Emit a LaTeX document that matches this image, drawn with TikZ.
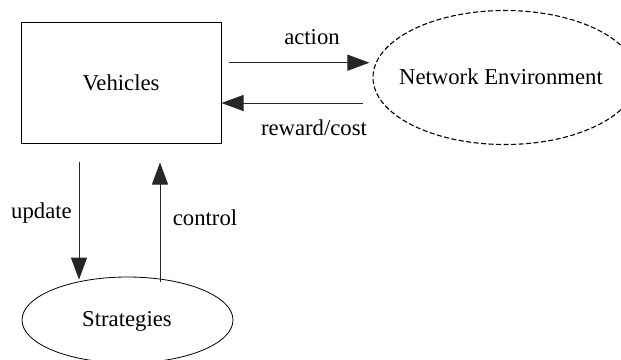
\documentclass[tikz,border=0pt]{standalone}
\usepackage{fontspec}
\setmainfont{Liberation Serif}
\usetikzlibrary{shapes.geometric,arrows.meta}
\tikzset{
  arr/.style={-{Triangle[length=22pt,width=16pt]}, line width=0.9pt, draw=black!85},
  lbl/.style={inner sep=0pt, font=\fontsize{22.7}{27}\selectfont},
  boxnode/.style={draw, line width=1pt, minimum width=200pt, minimum height=121pt, inner sep=0pt, font=\fontsize{22.7}{27}\selectfont},
  ellnode/.style={ellipse, draw, line width=0.8pt, inner sep=0pt, font=\fontsize{22.7}{27}\selectfont}
}
\begin{document}
\begin{tikzpicture}[x=1pt,y=-1pt]
\useasboundingbox (0,0) rectangle (621,359);
\clip (0,0) rectangle (621,359);
\node[ellnode, line width=1.1pt, dash pattern=on 5pt off 2.5pt, minimum width=264pt, minimum height=134pt] (net) at (505,77.5) {};
\node[boxnode] (veh) at (121,82.5) {Vehicles};
\node[lbl] (nettext) at (501,77) {Network Environment};
\node[ellnode, minimum width=211pt, minimum height=86pt] (str) at (127.5,320) {};
\node[lbl] (strtext) at (127,321) {Strategies};
\draw[arr] ([xshift=7.5pt,yshift=19.8pt]veh.east) -- ([xshift=-3pt,yshift=14.8pt]net.west);
\draw[arr] ([xshift=-9.5pt,yshift=-25.5pt]net.west) -- ([yshift=-20.5pt]veh.east);
\draw[arr] ([xshift=-42pt,yshift=-18pt]veh.south) -- ([xshift=-48.5pt,yshift=-3pt]str.north);
\draw[arr] ([xshift=32.5pt,yshift=-5pt]str.north) -- ([xshift=39pt,yshift=-19pt]veh.south);
\node[lbl] (action) at (312,37) {action};
\node[lbl] (reward) at (314,128) {reward/cost};
\node[lbl] (update) at (41.5,213) {update};
\node[lbl] (control) at (205,218) {control};
\end{tikzpicture}
\end{document}
